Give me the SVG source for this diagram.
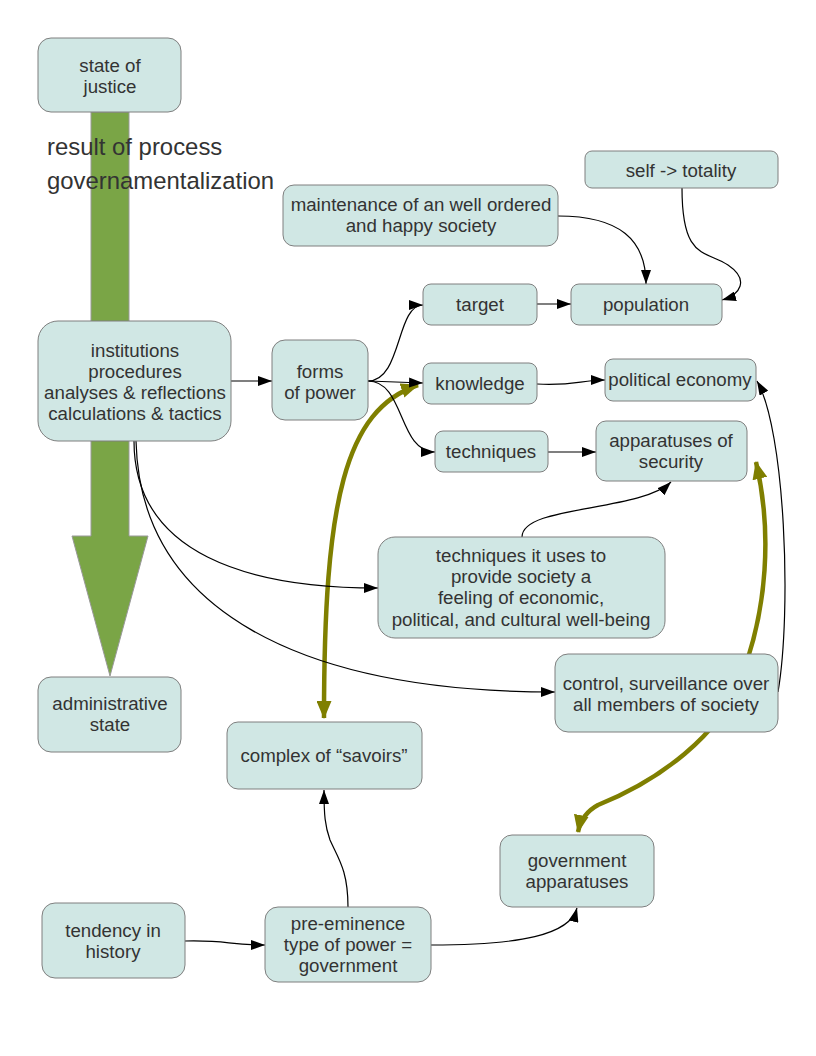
<svg xmlns="http://www.w3.org/2000/svg" width="816" height="1056" viewBox="0 0 816 1056">
<style>
.n rect{fill:#d0e7e4;stroke:#7f7f7f;stroke-width:1}
.n text,.t{font-family:"Liberation Sans",Arial,sans-serif;font-size:18.7px;fill:#333;text-anchor:middle}
.big{font-family:"Liberation Sans",Arial,sans-serif;font-size:23.9px;fill:#333}
.c path{fill:none;stroke:#000;stroke-width:1.2}
.o path{fill:none;stroke:#7f7f00;stroke-width:4.5}
</style>
<defs>
<marker id="a" viewBox="0 0 14 10" refX="14" refY="5" markerWidth="14" markerHeight="10" markerUnits="userSpaceOnUse" orient="auto"><path d="M0,0 L14,5 L0,10 z" fill="#000"/></marker>
<marker id="ao" viewBox="0 0 18 15" refX="17" refY="7.5" markerWidth="18" markerHeight="15" markerUnits="userSpaceOnUse" orient="auto"><path d="M0,0 L18,7.5 L0,15 z" fill="#7f7f00"/></marker>
<marker id="aos" viewBox="0 0 18 15" refX="1" refY="7.5" markerWidth="18" markerHeight="15" markerUnits="userSpaceOnUse" orient="auto"><path d="M18,0 L0,7.5 L18,15 z" fill="#7f7f00"/></marker>
</defs>
<rect width="816" height="1056" fill="#fff"/>
<g id="big-arrow">
<path d="M91,112 L129,112 L129,536 L148,536 L110,676 L72,536 L91,536 Z" fill="#7aa546" stroke="#999" stroke-width="1"/>
</g>
<g id="connectors">
<g class="o">
<path d="M418,385 C345,410 324,500 324,718" marker-end="url(#ao)" marker-start="url(#aos)"/>
<path d="M756,462 C772,530 768,610 740,680 C720,735 660,780 598,805 C585,812 580,822 578,832" marker-start="url(#aos)" marker-end="url(#ao)"/>
</g>
<g class="c">
<path d="M231,381 L272,381" marker-end="url(#a)"/>
<path d="M368,381 C402,381 396,305 423,305" marker-end="url(#a)"/>
<path d="M368,381 L423,383" marker-end="url(#a)"/>
<path d="M368,381 C405,381 398,452 435,452" marker-end="url(#a)"/>
<path d="M537,304 L571,304" marker-end="url(#a)"/>
<path d="M558,216 C620,216 646,240 646,284" marker-end="url(#a)"/>
<path d="M682,188 C682,260 705,250 728,265 C750,280 740,295 722,300" marker-end="url(#a)"/>
<path d="M537,384 C575,386 580,380 605,380" marker-end="url(#a)"/>
<path d="M548,452 L596,452" marker-end="url(#a)"/>
<path d="M522,537 C522,505 640,512 671,482" marker-end="url(#a)"/>
<path d="M134,441 C134,555 250,588 378,588" marker-end="url(#a)"/>
<path d="M136,441 C140,610 300,692 555,692" marker-end="url(#a)"/>
<path d="M778,692 C792,610 785,430 757,381" marker-end="url(#a)"/>
<path d="M348,907 C348,870 338,858 330,840 C325,826 324,815 324,790" marker-end="url(#a)"/>
<path d="M185,941 C230,940 225,945 265,945" marker-end="url(#a)"/>
<path d="M431,945 C520,945 570,935 577,908" marker-end="url(#a)"/>
</g>
</g>
<g class="big"><text x="47" y="155">result of process</text><text x="47" y="189">governamentalization</text></g>
<g id="state-of-justice" class="n"><rect x="38" y="38" width="143" height="74" rx="13"/><text x="110" y="72">state of</text><text x="110" y="93">justice</text></g>
<g id="institutions" class="n"><rect x="38" y="321" width="193" height="120" rx="20"/><text x="135" y="357">institutions</text><text x="135" y="378">procedures</text><text x="135" y="399">analyses &amp; reflections</text><text x="135" y="420">calculations &amp; tactics</text></g>
<g id="administrative-state" class="n"><rect x="38" y="677" width="143" height="75" rx="13"/><text x="110" y="710">administrative</text><text x="110" y="731">state</text></g>
<g id="forms-of-power" class="n"><rect x="272" y="340" width="96" height="80" rx="13"/><text x="320" y="378">forms</text><text x="320" y="399">of power</text></g>
<g id="target" class="n"><rect x="423" y="284" width="114" height="41" rx="8"/><text x="480" y="311">target</text></g>
<g id="population" class="n"><rect x="571" y="284" width="151" height="41" rx="8"/><text x="646" y="311">population</text></g>
<g id="maintenance" class="n"><rect x="283" y="185" width="275" height="61" rx="11"/><text x="421" y="211">maintenance of an well ordered</text><text x="421" y="232">and happy society</text></g>
<g id="self-totality" class="n"><rect x="585" y="151" width="193" height="37" rx="7"/><text x="681" y="177">self -&gt; totality</text></g>
<g id="knowledge" class="n"><rect x="423" y="363" width="114" height="41" rx="8"/><text x="480" y="390">knowledge</text></g>
<g id="political-economy" class="n"><rect x="605" y="359" width="151" height="42" rx="8"/><text x="680" y="386">political economy</text></g>
<g id="techniques" class="n"><rect x="435" y="431" width="113" height="41" rx="8"/><text x="491" y="458">techniques</text></g>
<g id="apparatuses-of-security" class="n"><rect x="596" y="421" width="151" height="60" rx="10"/><text x="671" y="447">apparatuses of</text><text x="671" y="468">security</text></g>
<g id="techniques-it-uses" class="n"><rect x="378" y="537" width="287" height="101" rx="17"/><text x="521" y="562">techniques it uses to</text><text x="521" y="583">provide society a </text><text x="521" y="604">feeling of economic,</text><text x="521" y="626">political, and cultural well-being</text></g>
<g id="control" class="n"><rect x="555" y="654" width="223" height="78" rx="13"/><text x="666" y="690">control, surveillance over</text><text x="666" y="711">all members of society</text></g>
<g id="complex-of-savoirs" class="n"><rect x="227" y="722" width="195" height="67" rx="11"/><text x="324" y="762">complex of “savoirs”</text></g>
<g id="government-apparatuses" class="n"><rect x="500" y="835" width="154" height="72" rx="12"/><text x="577" y="867">government</text><text x="577" y="888">apparatuses</text></g>
<g id="tendency-in-history" class="n"><rect x="42" y="903" width="143" height="75" rx="13"/><text x="113" y="937">tendency in</text><text x="113" y="958">history</text></g>
<g id="pre-eminence" class="n"><rect x="265" y="907" width="166" height="75" rx="13"/><text x="348" y="930">pre-eminence</text><text x="348" y="951">type of power =</text><text x="348" y="972">government</text></g>
</svg>
